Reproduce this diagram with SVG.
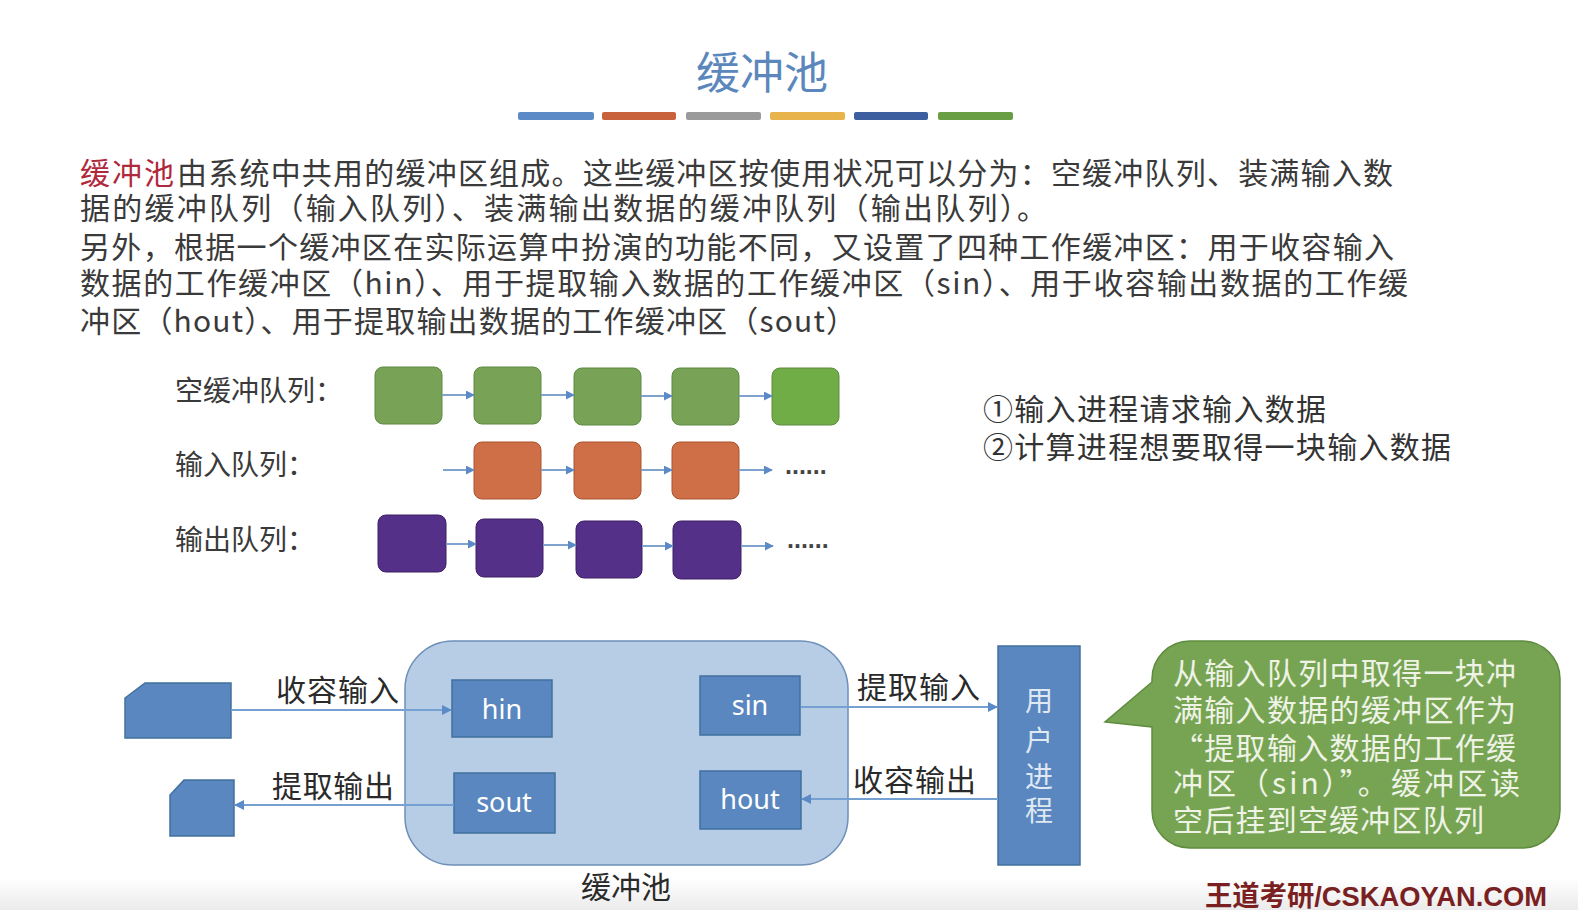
<svg xmlns="http://www.w3.org/2000/svg" width="1578" height="910" viewBox="0 0 1578 910">
<defs>
<style>
.cjk{font-family:"Noto Sans CJK SC","Noto Sans",sans-serif;}
.body{font-size:30px;fill:#3a3a3a;}
.qlabel{font-size:28px;fill:#3a3a3a;}
.lbl{font-size:30px;fill:#2a2a2a;}
.box{fill:#5a87bf;stroke:#41709e;stroke-width:1.5;}
.boxtxt{font-family:"Noto Sans","Open Sans",sans-serif;font-size:27px;fill:#ffffff;text-anchor:middle;}
.g{fill:#78a356;stroke:#5d8a40;stroke-width:1;}
.o{fill:#cf6f48;stroke:#a9542f;stroke-width:1;}
.p{fill:#553088;stroke:#3d1f66;stroke-width:1;}
.qa{stroke:#7fa3cc;stroke-width:2;fill:none;marker-end:url(#qh);}
.ca{stroke:#74a0d2;stroke-width:2;fill:none;marker-end:url(#ch);}
.dots{font-family:"Liberation Sans",sans-serif;font-size:25px;font-weight:bold;fill:#444;}
</style>
<marker id="qh" viewBox="0 0 10 10" refX="9" refY="5" markerWidth="9" markerHeight="9" markerUnits="userSpaceOnUse" orient="auto">
<path d="M0,0 L10,5 L0,10 Z" fill="#5b8ac6"/>
</marker>
<marker id="ch" viewBox="0 0 10 10" refX="9" refY="5" markerWidth="10" markerHeight="10" markerUnits="userSpaceOnUse" orient="auto">
<path d="M0,0 L10,5 L0,10 Z" fill="#5b8ac6"/>
</marker>
<linearGradient id="bot" x1="0" y1="0" x2="0" y2="1">
<stop offset="0" stop-color="#ffffff"/>
<stop offset="1" stop-color="#ebebeb"/>
</linearGradient>
</defs>
<rect x="0" y="0" width="1578" height="910" fill="#ffffff"/>
<rect x="0" y="878" width="1578" height="32" fill="url(#bot)"/>

<g id="title">
<text x="762" y="89" class="cjk" font-size="44" fill="#5b87bd" text-anchor="middle">缓冲池</text>
<rect x="518" y="112" width="76" height="8" rx="2" fill="#5b8ac6"/>
<rect x="602" y="112" width="74" height="8" rx="2" fill="#c8623c"/>
<rect x="686" y="112" width="75" height="8" rx="2" fill="#9a9a9a"/>
<rect x="770" y="112" width="75" height="8" rx="2" fill="#e8b34a"/>
<rect x="854" y="112" width="74" height="8" rx="2" fill="#3d5fa0"/>
<rect x="938" y="112" width="75" height="8" rx="2" fill="#6a9e45"/>
</g>

<g id="paragraph" class="cjk body">
<text x="80" y="184" fill="#b0283c" textLength="94" lengthAdjust="spacing">缓冲池</text>
<text x="177" y="184" textLength="1216" lengthAdjust="spacing">由系统中共用的缓冲区组成。这些缓冲区按使用状况可以分为：空缓冲队列、装满输入数</text>
<text x="80" y="219" textLength="967" lengthAdjust="spacing">据的缓冲队列（输入队列）、装满输出数据的缓冲队列（输出队列）。</text>
<text x="80" y="258" textLength="1314" lengthAdjust="spacing">另外，根据一个缓冲区在实际运算中扮演的功能不同，又设置了四种工作缓冲区：用于收容输入</text>
<text x="80" y="294" textLength="1328" lengthAdjust="spacing">数据的工作缓冲区（hin）、用于提取输入数据的工作缓冲区（sin）、用于收容输出数据的工作缓</text>
<text x="80" y="332" textLength="776" lengthAdjust="spacing">冲区（hout）、用于提取输出数据的工作缓冲区（sout）</text>
</g>

<g id="queue-empty">
<text x="175" y="401" class="cjk qlabel">空缓冲队列：</text>
<rect x="375" y="367" width="67" height="57" rx="8" class="g"/>
<rect x="474" y="367" width="67" height="57" rx="8" class="g"/>
<rect x="574" y="368" width="67" height="57" rx="8" class="g"/>
<rect x="672" y="368" width="67" height="57" rx="8" class="g"/>
<rect x="772" y="368" width="67" height="57" rx="8" fill="#70ad47" stroke="#5d8a40" stroke-width="1"/>
</g>

<g id="queue-input">
<text x="175" y="475" class="cjk qlabel">输入队列：</text>
<rect x="474" y="442" width="67" height="57" rx="8" class="o"/>
<rect x="574" y="442" width="67" height="57" rx="8" class="o"/>
<rect x="672" y="442" width="67" height="57" rx="8" class="o"/>
<text x="785" y="474" class="dots">......</text>
</g>

<g id="queue-output">
<text x="175" y="550" class="cjk qlabel">输出队列：</text>
<rect x="378" y="515" width="68" height="57" rx="8" class="p"/>
<rect x="476" y="519" width="67" height="58" rx="8" class="p"/>
<rect x="576" y="521" width="66" height="57" rx="8" class="p"/>
<rect x="673" y="521" width="68" height="58" rx="8" class="p"/>
<text x="787" y="548" class="dots">......</text>
</g>

<g id="notes" class="cjk" font-size="30" fill="#333333">
<text x="983" y="420" textLength="343" lengthAdjust="spacing">①输入进程请求输入数据</text>
<text x="983" y="458" textLength="468" lengthAdjust="spacing">②计算进程想要取得一块输入数据</text>
</g>

<g id="device-in">
<polygon points="145,683 231,683 231,738 125,738 125,698" fill="#5a87bf" stroke="#41709e" stroke-width="1.5"/>
</g>
<g id="device-out">
<polygon points="184,780 234,780 234,836 170,836 170,795" fill="#5a87bf" stroke="#41709e" stroke-width="1.5"/>
</g>

<g id="buffer-pool">
<rect x="405" y="641" width="443" height="224" rx="48" fill="#b7cde5" stroke="#6d8fb8" stroke-width="1.5"/>
<text x="626" y="898" class="cjk lbl" text-anchor="middle">缓冲池</text>
</g>
<g id="hin">
<rect x="452" y="680" width="100" height="57" class="box"/>
<text x="502" y="719" class="boxtxt">hin</text>
</g>
<g id="sin">
<rect x="700" y="676" width="100" height="59" class="box"/>
<text x="750" y="715" class="boxtxt">sin</text>
</g>
<g id="sout">
<rect x="454" y="773" width="101" height="60" class="box"/>
<text x="504" y="812" class="boxtxt">sout</text>
</g>
<g id="hout">
<rect x="700" y="771" width="101" height="58" class="box"/>
<text x="750" y="809" class="boxtxt">hout</text>
</g>
<g id="user-process">
<rect x="998" y="646" width="82" height="219" fill="#5a87bf" stroke="#41709e" stroke-width="1.5"/>
<g class="cjk" font-size="28" fill="#dfe8f3" text-anchor="middle">
<text x="1039" y="711">用</text>
<text x="1039" y="751">户</text>
<text x="1039" y="787">进</text>
<text x="1039" y="821">程</text>
</g>
</g>

<g id="connectors">
<line x1="231" y1="710" x2="451" y2="710" class="ca"/>
<line x1="801" y1="707" x2="997" y2="707" class="ca"/>
<line x1="998" y1="799" x2="802" y2="799" class="ca"/>
<line x1="454" y1="805" x2="235" y2="805" class="ca"/>
<line x1="442" y1="395" x2="474" y2="395" class="qa"/>
<line x1="541" y1="395" x2="574" y2="395" class="qa"/>
<line x1="641" y1="396" x2="672" y2="396" class="qa"/>
<line x1="739" y1="396" x2="772" y2="396" class="qa"/>
<line x1="443" y1="470" x2="474" y2="470" class="qa"/>
<line x1="541" y1="470" x2="574" y2="470" class="qa"/>
<line x1="641" y1="470" x2="672" y2="470" class="qa"/>
<line x1="739" y1="470" x2="772" y2="470" class="qa"/>
<line x1="446" y1="544" x2="476" y2="544" class="qa"/>
<line x1="543" y1="545" x2="576" y2="545" class="qa"/>
<line x1="642" y1="546" x2="673" y2="546" class="qa"/>
<line x1="741" y1="546" x2="773" y2="546" class="qa"/>
</g>

<g id="connector-labels" class="cjk lbl">
<text x="276" y="701" textLength="123" lengthAdjust="spacing">收容输入</text>
<text x="857" y="698" textLength="123" lengthAdjust="spacing">提取输入</text>
<text x="853" y="791" textLength="123" lengthAdjust="spacing">收容输出</text>
<text x="272" y="797" textLength="122" lengthAdjust="spacing">提取输出</text>
</g>

<g id="callout">
<path d="M1190,641 H1522 A38,38 0 0 1 1560,679 V810 A38,38 0 0 1 1522,848 H1190 A38,38 0 0 1 1152,810 V727 L1105,722 L1152,682 V679 A38,38 0 0 1 1190,641 Z" fill="#77a453" stroke="#5e8c3e" stroke-width="1.5"/>
<g class="cjk" font-size="30" fill="#eef3e6">
<text x="1173" y="684" textLength="343" lengthAdjust="spacing">从输入队列中取得一块冲</text>
<text x="1173" y="721" textLength="343" lengthAdjust="spacing">满输入数据的缓冲区作为</text>
<text x="1173" y="759" textLength="343" lengthAdjust="spacing">“提取输入数据的工作缓</text>
<text x="1173" y="794" textLength="347" lengthAdjust="spacing">冲区（sin）”。缓冲区读</text>
<text x="1173" y="831" textLength="311" lengthAdjust="spacing">空后挂到空缓冲区队列</text>
</g>
</g>

<g id="brand">
<text x="1205" y="906" font-family="Liberation Sans, Noto Sans CJK SC, sans-serif" font-size="28" font-weight="bold" fill="#7a1f22" textLength="342" lengthAdjust="spacingAndGlyphs">王道考研/CSKAOYAN.COM</text>
</g>
</svg>
